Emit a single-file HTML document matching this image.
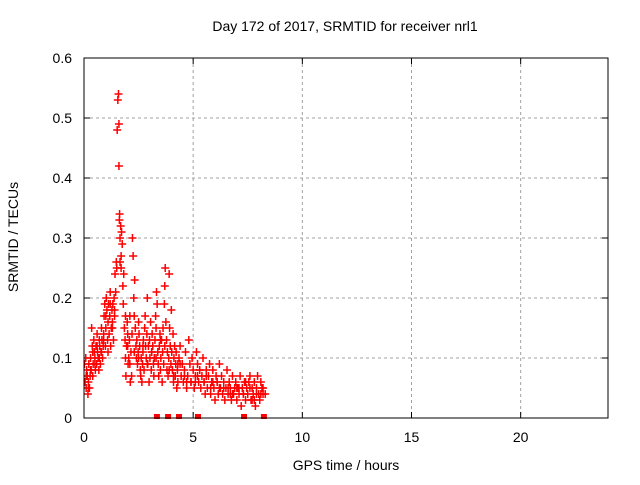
<!DOCTYPE html>
<html><head><meta charset="utf-8"><style>
body{margin:0;background:#fff;font-family:"Liberation Sans",sans-serif}
svg text{font-family:"Liberation Sans",sans-serif;font-size:14px;fill:#000}
</style></head><body>
<svg id="c" width="640" height="480" xmlns="http://www.w3.org/2000/svg"></svg>
<script>
const xTicks=[0,5,10,15,20];
const yTicks=[0,0.1,0.2,0.3,0.4,0.5,0.6];
const yTickLabels=["0","0.1","0.2","0.3","0.4","0.5","0.6"];
const times=[0.02,0.05,0.08,0.1,0.12,0.15,0.18,0.2,0.22,0.25,0.28,0.3,0.33,0.35,0.38,0.4,0.42,0.45,0.48,0.5,0.52,0.55,0.58,0.6,0.62,0.65,0.68,0.7,0.72,0.75,0.78,0.8,0.82,0.85,0.88,0.9,0.92,0.95,0.98,1.0,1.02,1.05,1.08,1.1,1.12,1.15,1.18,1.2,1.22,1.25,1.28,1.3,1.32,1.35,1.38,1.4,1.42,1.45,1.48,1.5,1.52,1.55,1.58,1.6,1.6,1.62,1.63,1.65,1.65,1.68,1.7,1.7,1.72,1.75,1.78,1.8,1.82,1.85,1.88,1.9,1.92,1.95,1.98,2.0,2.02,2.05,2.08,2.1,2.12,2.15,2.18,2.2,2.22,2.25,2.28,2.3,2.32,2.35,2.38,2.4,2.42,2.45,2.48,2.5,2.52,2.55,2.58,2.6,2.62,2.65,2.68,2.7,2.72,2.75,2.78,2.8,2.82,2.85,2.88,2.9,2.92,2.95,2.98,3.0,3.02,3.05,3.08,3.1,3.12,3.15,3.18,3.2,3.22,3.25,3.28,3.3,3.32,3.35,3.38,3.4,3.42,3.45,3.48,3.5,3.52,3.55,3.58,3.6,3.62,3.65,3.68,3.7,3.72,3.75,3.78,3.8,3.82,3.85,3.88,3.9,3.92,3.95,3.98,4.0,4.02,4.05,4.08,4.1,4.12,4.15,4.18,4.2,4.22,4.25,4.28,4.3,4.35,4.4,4.45,4.5,4.55,4.6,4.65,4.7,4.75,4.8,4.85,4.9,4.95,5.0,5.05,5.1,5.15,5.2,5.25,5.3,5.35,5.4,5.45,5.5,5.55,5.6,5.65,5.7,5.75,5.8,5.85,5.9,5.95,6.0,6.05,6.1,6.15,6.2,6.25,6.3,6.35,6.4,6.45,6.5,6.55,6.6,6.65,6.7,6.75,6.8,6.85,6.9,6.95,7.0,7.05,7.1,7.15,7.2,7.25,7.3,7.35,7.4,7.45,7.5,7.55,7.6,7.65,7.7,7.75,7.8,7.85,7.9,7.95,8.0,8.05,8.1,8.15,8.2,8.25,8.3,8.35];
const values=[0.09,0.06,0.1,0.05,0.08,0.07,0.04,0.06,0.09,0.05,0.07,0.1,0.08,0.15,0.12,0.07,0.09,0.13,0.11,0.1,0.08,0.12,0.09,0.14,0.11,0.1,0.08,0.13,0.12,0.09,0.11,0.15,0.13,0.1,0.12,0.14,0.17,0.19,0.12,0.15,0.2,0.18,0.13,0.16,0.19,0.14,0.17,0.21,0.12,0.15,0.18,0.16,0.19,0.13,0.2,0.17,0.24,0.21,0.26,0.25,0.48,0.53,0.54,0.42,0.49,0.33,0.34,0.3,0.26,0.32,0.25,0.27,0.31,0.29,0.22,0.19,0.24,0.15,0.13,0.1,0.07,0.12,0.16,0.14,0.09,0.1,0.13,0.17,0.06,0.11,0.07,0.14,0.3,0.27,0.2,0.17,0.23,0.15,0.12,0.1,0.13,0.09,0.11,0.16,0.14,0.12,0.08,0.07,0.1,0.06,0.09,0.11,0.13,0.08,0.15,0.17,0.12,0.1,0.14,0.2,0.09,0.12,0.06,0.13,0.1,0.16,0.08,0.11,0.14,0.12,0.09,0.07,0.1,0.13,0.17,0.15,0.21,0.19,0.11,0.09,0.07,0.12,0.14,0.08,0.1,0.13,0.06,0.11,0.15,0.09,0.19,0.22,0.25,0.16,0.13,0.08,0.11,0.07,0.1,0.24,0.15,0.12,0.09,0.18,0.11,0.08,0.14,0.06,0.1,0.12,0.07,0.09,0.11,0.05,0.08,0.06,0.1,0.12,0.07,0.09,0.06,0.08,0.11,0.05,0.07,0.13,0.09,0.06,0.1,0.08,0.05,0.07,0.11,0.09,0.06,0.08,0.05,0.07,0.1,0.06,0.04,0.08,0.05,0.07,0.09,0.04,0.06,0.08,0.05,0.03,0.07,0.06,0.04,0.09,0.05,0.07,0.04,0.06,0.03,0.05,0.08,0.04,0.06,0.05,0.03,0.07,0.04,0.05,0.06,0.03,0.05,0.04,0.07,0.02,0.05,0.04,0.06,0.03,0.05,0.04,0.06,0.07,0.03,0.05,0.04,0.06,0.02,0.05,0.07,0.04,0.03,0.06,0.05,0.04];
const extraTimes=[0.1,0.2,0.3,0.4,0.5,0.6,0.7,0.8,0.9,1.0,1.1,1.2,1.3,1.4,1.9,2.0,2.1,2.3,2.5,2.7,2.9,3.1,3.3,3.5,3.7,3.9,4.1,4.3,4.6,4.9,5.2,5.5,5.8,6.1,6.4,6.7,7.0,7.3,7.6,7.9,8.2,5.1,5.6,6.2,6.8,7.4,7.8,8.1,4.4,4.7,5.3,5.9,6.6,7.1,7.7,8.3];
const extraValues=[0.07,0.05,0.08,0.11,0.09,0.12,0.1,0.11,0.13,0.17,0.11,0.19,0.15,0.18,0.17,0.12,0.09,0.11,0.1,0.12,0.09,0.11,0.1,0.13,0.12,0.08,0.07,0.09,0.07,0.06,0.07,0.06,0.05,0.06,0.05,0.04,0.05,0.04,0.05,0.04,0.05,0.06,0.07,0.05,0.04,0.06,0.03,0.04,0.09,0.06,0.08,0.06,0.05,0.05,0.03,0.04];
const zeroTimes=[3.34,3.85,4.35,5.22,7.33,8.24];
const zeroValues=[0,0,0,0,0,0];
const NS="http://www.w3.org/2000/svg";
const svg=document.getElementById('c');
const L=84,R=608,T=58,B=418;
const xs=t=>L+t/24*(R-L);
const ys=v=>B-v/0.6*(B-T);
function mk(tag,attrs){const e=document.createElementNS(NS,tag);for(const k in attrs)e.setAttribute(k,attrs[k]);svg.appendChild(e);return e;}
yTicks.forEach((v,i)=>{
  if(v>0&&v<0.6){const g=mk('line',{x1:L,x2:R,y1:ys(v),y2:ys(v),stroke:'#a0a0a0','stroke-dasharray':'3,3'});
  
  }
  const t=mk('text',{x:L-12,y:ys(v)+5,'text-anchor':'end'});t.textContent=yTickLabels[i];
  
  
  const tk=mk('line',{x1:L,x2:L+6,y1:ys(v),y2:ys(v),stroke:'#000'});
  
  
  mk('line',{x1:R,x2:R-6,y1:ys(v),y2:ys(v),stroke:'#000'});
});
xTicks.forEach(v=>{
  if(v>0){const g=mk('line',{x1:xs(v),x2:xs(v),y1:T,y2:B,stroke:'#a0a0a0','stroke-dasharray':'3,3'});
  
  }
  const t=mk('text',{x:xs(v),y:B+24,'text-anchor':'middle'});t.textContent=String(v);
  
  
  const tk=mk('line',{x1:xs(v),x2:xs(v),y1:B,y2:B-6,stroke:'#000'});
  
  
  mk('line',{x1:xs(v),x2:xs(v),y1:T,y2:T+6,stroke:'#000'});
});
const clip=mk('clipPath',{id:'pc'});
const cr=document.createElementNS(NS,'rect');cr.setAttribute('x',L);cr.setAttribute('y',T);cr.setAttribute('width',R-L);cr.setAttribute('height',B-T);clip.appendChild(cr);
const pts=mk('g',{'clip-path':'url(#pc)',stroke:'#ff0000','stroke-width':'1.5'});


function plot(ts,vs,w){
  const n=Math.min(ts.length,vs.length);
  for(let i=0;i<n;i++){
    const x=xs(ts[i]),y=ys(vs[i]);
    const p=document.createElementNS(NS,'path');
    p.setAttribute('d',`M${x-w},${y}H${x+w}M${x},${y-w}V${y+w}`);
    
    
    pts.appendChild(p);
  }
}
plot(times,values,4);
plot(extraTimes,extraValues,4);
const zg=mk('g',{fill:'#ff0000'});


zeroTimes.forEach((t,i)=>{
  const r=document.createElementNS(NS,'rect');
  r.setAttribute('x',xs(t)-3);r.setAttribute('y',ys(zeroValues[i])-4);r.setAttribute('width',6);r.setAttribute('height',5);
  
  
  zg.appendChild(r);
});
const f=mk('rect',{x:L,y:T,width:R-L,height:B-T,fill:'none',stroke:'#000'});


</script>
<div style="position:absolute;left:0;top:0;width:640px;height:480px;pointer-events:none">
<div style="position:absolute;left:0;width:690px;top:18px;text-align:center;font-size:14px">Day 172 of 2017, SRMTID for receiver nrl1</div>
<div style="position:absolute;left:84px;width:524px;top:457px;text-align:center;font-size:14px">GPS time / hours</div>
<div style="position:absolute;left:-62px;top:229px;width:150px;text-align:center;font-size:14px;transform:rotate(-90deg)">SRMTID / TECUs</div>
</div>
</body></html>
